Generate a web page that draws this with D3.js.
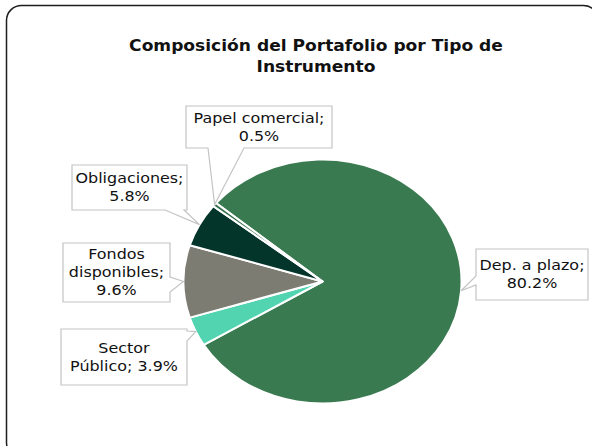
<!DOCTYPE html>
<html>
<head>
<meta charset="utf-8">
<script src="https://cdn.jsdelivr.net/npm/d3@7"></script>
<style>
  body { margin: 0; background: #fff; }
  svg { display: block; font-family: "DejaVu Sans", sans-serif; }
</style>
</head>
<body>
<div id="vis"></div>
<script>
const WIDTH = 592;
const HEIGHT = 446;

const TITLE = ["Composición del Portafolio por Tipo de", "Instrumento"];
const CATEGORIES = ["Dep. a plazo", "Sector Público", "Fondos disponibles", "Obligaciones", "Papel comercial"];
const VALUES = [80.2, 3.9, 9.6, 5.8, 0.5];
const LABEL_LINES = [
  ["Dep. a plazo;", "80.2%"],
  ["Sector", "Público; 3.9%"],
  ["Fondos", "disponibles;", "9.6%"],
  ["Obligaciones;", "5.8%"],
  ["Papel comercial;", "0.5%"]
];
const COLORS = ["#3a7a51", "#52d4b0", "#7c7c72", "#03352b", "#2f6c45"];

// label box layout: box, side the tail comes out of, tail base range on that side
const BOXES = [
  { x: 476, y: 249, w: 112, h: 51, side: "left", a: 276, b: 285 },
  { x: 61, y: 329, w: 126, h: 56, side: "right", a: 331, b: 341 },
  { x: 63, y: 243, w: 107, h: 59, side: "right", a: 277, b: 292 },
  { x: 72, y: 165, w: 115, h: 45, side: "bottom", a: 165, b: 184 },
  { x: 186, y: 106, w: 146, h: 42, side: "bottom", a: 208, b: 244 }
];

const CX = 322.5, CY = 281.5;
const RY = 122;
const STRETCH = 139 / 122; // whole chart is stretched sideways
const START = -50 * Math.PI / 180;

const svg = d3.select("#vis").append("svg")
  .attr("width", WIDTH)
  .attr("height", HEIGHT);

svg.append("rect")
  .attr("x", 6.5).attr("y", 5.5)
  .attr("width", 592).attr("height", 452)
  .attr("rx", 15)
  .attr("fill", "#fff")
  .attr("stroke", "#1e1e1e")
  .attr("stroke-width", 1.5);

svg.append("g").selectAll("text")
  .data(TITLE)
  .join("text")
  .attr("transform", (d, i) => `translate(316,${51 + i * 21}) scale(${STRETCH},1)`)
  .attr("text-anchor", "middle")
  .attr("font-size", 15)
  .attr("font-weight", "bold")
  .attr("fill", "#111")
  .text(d => d);

const pie = d3.pie().sort(null).startAngle(START).endAngle(START + 2 * Math.PI);
const arcs = pie(VALUES);
const arc = d3.arc().innerRadius(0).outerRadius(RY);

const pieG = svg.append("g")
  .attr("transform", `translate(${CX},${CY}) scale(${STRETCH},1)`);

pieG.selectAll("path")
  .data(arcs)
  .join("path")
  .attr("d", arc)
  .attr("fill", (d, i) => COLORS[i])
  .attr("stroke", "#fff")
  .attr("stroke-width", 2)
  .attr("vector-effect", "non-scaling-stroke")
  .attr("stroke-linejoin", "round");

function tipPoint(d) {
  const m = (d.startAngle + d.endAngle) / 2;
  return [CX + RY * STRETCH * Math.sin(m), CY - RY * Math.cos(m)];
}

function calloutPath(bx, tip) {
  const x0 = bx.x, y0 = bx.y, x1 = bx.x + bx.w, y1 = bx.y + bx.h;
  const p = d3.path();
  p.moveTo(x0, y0);
  p.lineTo(x1, y0);
  if (bx.side === "right") {
    p.lineTo(x1, bx.a); p.lineTo(tip[0], tip[1]); p.lineTo(x1, bx.b);
  }
  p.lineTo(x1, y1);
  if (bx.side === "bottom") {
    p.lineTo(bx.b, y1); p.lineTo(tip[0], tip[1]); p.lineTo(bx.a, y1);
  }
  p.lineTo(x0, y1);
  if (bx.side === "left") {
    p.lineTo(x0, bx.b); p.lineTo(tip[0], tip[1]); p.lineTo(x0, bx.a);
  }
  p.closePath();
  return p.toString();
}

const labels = svg.append("g").selectAll("g")
  .data(arcs)
  .join("g");

labels.append("path")
  .attr("d", (d, i) => calloutPath(BOXES[i], tipPoint(d)))
  .attr("fill", "#fff")
  .attr("stroke", "#c4c4c4")
  .attr("stroke-width", 1.2);

labels.each(function (d, i) {
  const bx = BOXES[i];
  const lines = LABEL_LINES[i];
  const lh = 18;
  const top = bx.y + bx.h / 2 - (lines.length - 1) * lh / 2;
  d3.select(this).selectAll("text")
    .data(lines)
    .join("text")
    .attr("transform", (t, j) => `translate(${bx.x + bx.w / 2},${top + j * lh}) scale(${STRETCH},1)`)
    .attr("dy", "0.35em")
    .attr("text-anchor", "middle")
    .attr("font-size", 14)
    .attr("fill", "#111")
    .text(t => t);
});
</script>
</body>
</html>
